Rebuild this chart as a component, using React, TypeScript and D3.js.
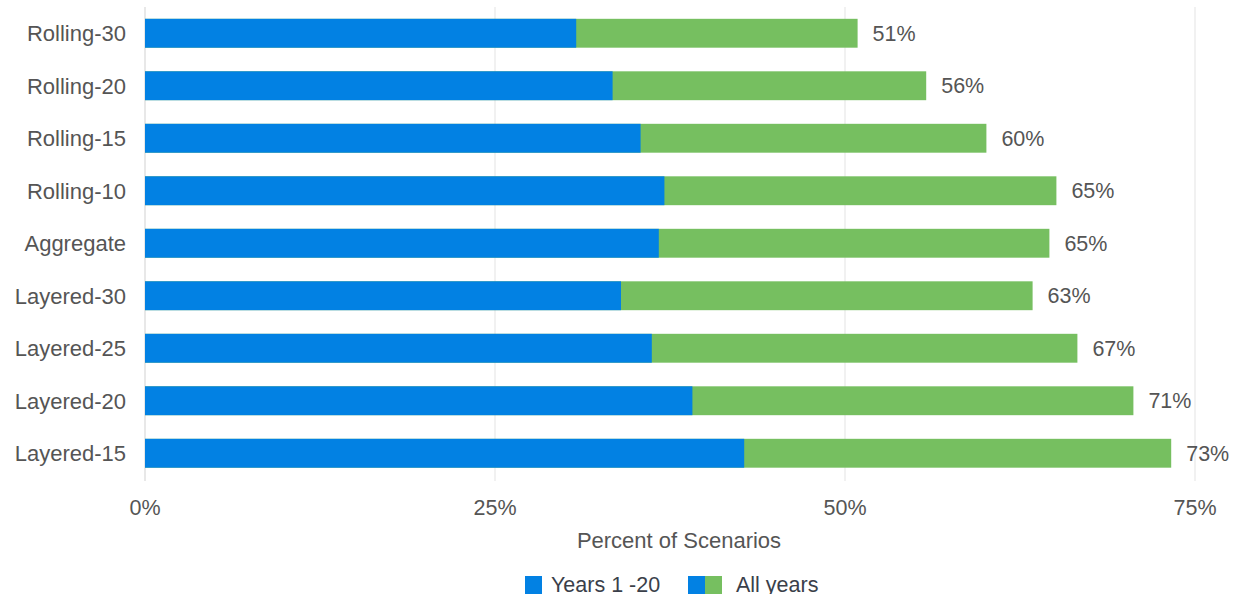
import React from "react";
import * as d3 from "d3";

const categories = ["Rolling-30", "Rolling-20", "Rolling-15", "Rolling-10", "Aggregate", "Layered-30", "Layered-25", "Layered-20", "Layered-15"];
const years1to20 = [30.8, 33.4, 35.4, 37.1, 36.7, 34.0, 36.2, 39.1, 42.8];
const allYears = [50.9, 55.8, 60.1, 65.1, 64.6, 63.4, 66.6, 70.6, 73.3];
const xTicks = [0, 25, 50, 75];

const BLUE = "#0281e3";
const GREEN = "#76bf60";
const FONT = "'Liberation Sans', Arial, sans-serif";

export default function App() {
  const W = 1233, H = 594;
  const x = d3.scaleLinear().domain([0, 75]).range([145, 1195]);
  const y = d3.scaleBand<string>().domain(categories).range([7, 479.5]).paddingInner(0.45).paddingOuter(0.225);
  const bw = y.bandwidth();
  return (
    <svg width={W} height={H} style={{ position: "absolute", left: 0, top: 0, fontFamily: FONT }}>
      {xTicks.map((t) => (
        <g key={t}>
          <line x1={x(t)} x2={x(t)} y1={7} y2={481} stroke={t === 0 ? "#d9d9d9" : "#e8e8e8"} strokeWidth={1.2} />
          <text x={x(t)} y={515} textAnchor="middle" fontSize={21.5} fill="#555">{t}%</text>
        </g>
      ))}
      {categories.map((c, i) => {
        const y0 = y(c)!;
        return (
          <g key={c}>
            <rect x={x(0)} y={y0} width={x(allYears[i]) - x(0)} height={bw} fill={GREEN} />
            <rect x={x(0)} y={y0} width={x(years1to20[i]) - x(0)} height={bw} fill={BLUE} />
            <text x={126} y={y0 + bw / 2} dy="0.36em" textAnchor="end" fontSize={22} fill="#555">{c}</text>
            <text x={x(allYears[i]) + 15} y={y0 + bw / 2} dy="0.36em" fontSize={21.5} fill="#555">{Math.round(allYears[i])}%</text>
          </g>
        );
      })}
      <text x={679} y={548} textAnchor="middle" fontSize={22} fill="#555">Percent of Scenarios</text>
      <g>
        <rect x={525} y={576} width={17} height={18} fill={BLUE} />
        <text x={551} y={592} fontSize={21.5} fill="#3a3f4a">Years 1 -20</text>
        <rect x={688} y={576} width={17} height={18} fill={BLUE} />
        <rect x={705} y={576} width={17} height={18} fill={GREEN} />
        <text x={736} y={592} fontSize={21.5} fill="#3a3f4a">All years</text>
      </g>
    </svg>
  );
}
